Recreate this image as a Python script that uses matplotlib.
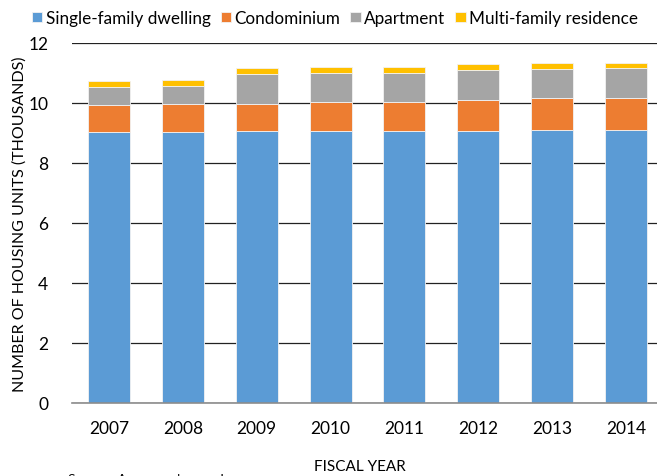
import matplotlib.pyplot as plt
import numpy as np

plt.rcParams['font.family'] = ['Lato', 'DejaVu Sans']

years = ['2007', '2008', '2009', '2010', '2011', '2012', '2013', '2014']
single_family = [9.02, 9.03, 9.06, 9.07, 9.06, 9.08, 9.09, 9.10]
condominium = [0.91, 0.94, 0.91, 0.95, 0.98, 1.03, 1.07, 1.07]
apartment = [0.60, 0.59, 1.00, 0.99, 0.97, 0.98, 0.98, 0.99]
multi_family = [0.20, 0.21, 0.20, 0.19, 0.20, 0.20, 0.19, 0.18]

series = [
    ("Single-family dwelling", single_family, "#5B9BD5"),
    ("Condominium", condominium, "#ED7D31"),
    ("Apartment", apartment, "#A5A5A5"),
    ("Multi-family residence", multi_family, "#FFC000"),
]

fig = plt.figure(figsize=(6.57, 4.77), dpi=100)
ax = fig.add_axes([72 / 657, 73 / 477, 591 / 657, 360 / 477])

x = np.arange(len(years))
bottom = np.zeros(len(years))
for name, vals, color in series:
    ax.bar(x, vals, 0.57, bottom=bottom, color=color, label=name,
           edgecolor="#f2f2f2", linewidth=0.6, zorder=2)
    bottom += np.array(vals)

ax.set_xlim(-0.5, 7.5)
ax.set_ylim(0, 12)
ax.set_yticks(range(0, 13, 2))
ax.set_xticks(x)
ax.set_xticklabels(years)
ax.yaxis.grid(True, color="#222222", linewidth=0.9, zorder=0)
ax.set_axisbelow(True)
for s in ["left", "right", "top"]:
    ax.spines[s].set_visible(False)
ax.spines["bottom"].set_color("#8c8c8c")
ax.spines["bottom"].set_linewidth(1.2)
ax.tick_params(axis="y", length=0, pad=17, labelsize=12.5)
ax.tick_params(axis="x", length=0, pad=12, labelsize=12.5)

ax.set_ylabel("NUMBER OF HOUSING UNITS (THOUSANDS)", fontsize=11.5)
ax.yaxis.set_label_coords(-0.076, 0.5)
fig.text(360 / 657, 1 - 467 / 477, "FISCAL YEAR", ha="center", va="center", fontsize=11)
fig.text(68 / 657, 1 - 474 / 477, "Source: Assessors' records", ha="left", va="top", fontsize=10)

fig.legend(loc="center", bbox_to_anchor=(335 / 657, 1 - 19 / 477), ncol=4, frameon=False,
           fontsize=12.3, handlelength=0.6, handleheight=0.6, handletextpad=0.2,
           columnspacing=0.6, borderaxespad=0)

fig.savefig("out.png", dpi=100)
